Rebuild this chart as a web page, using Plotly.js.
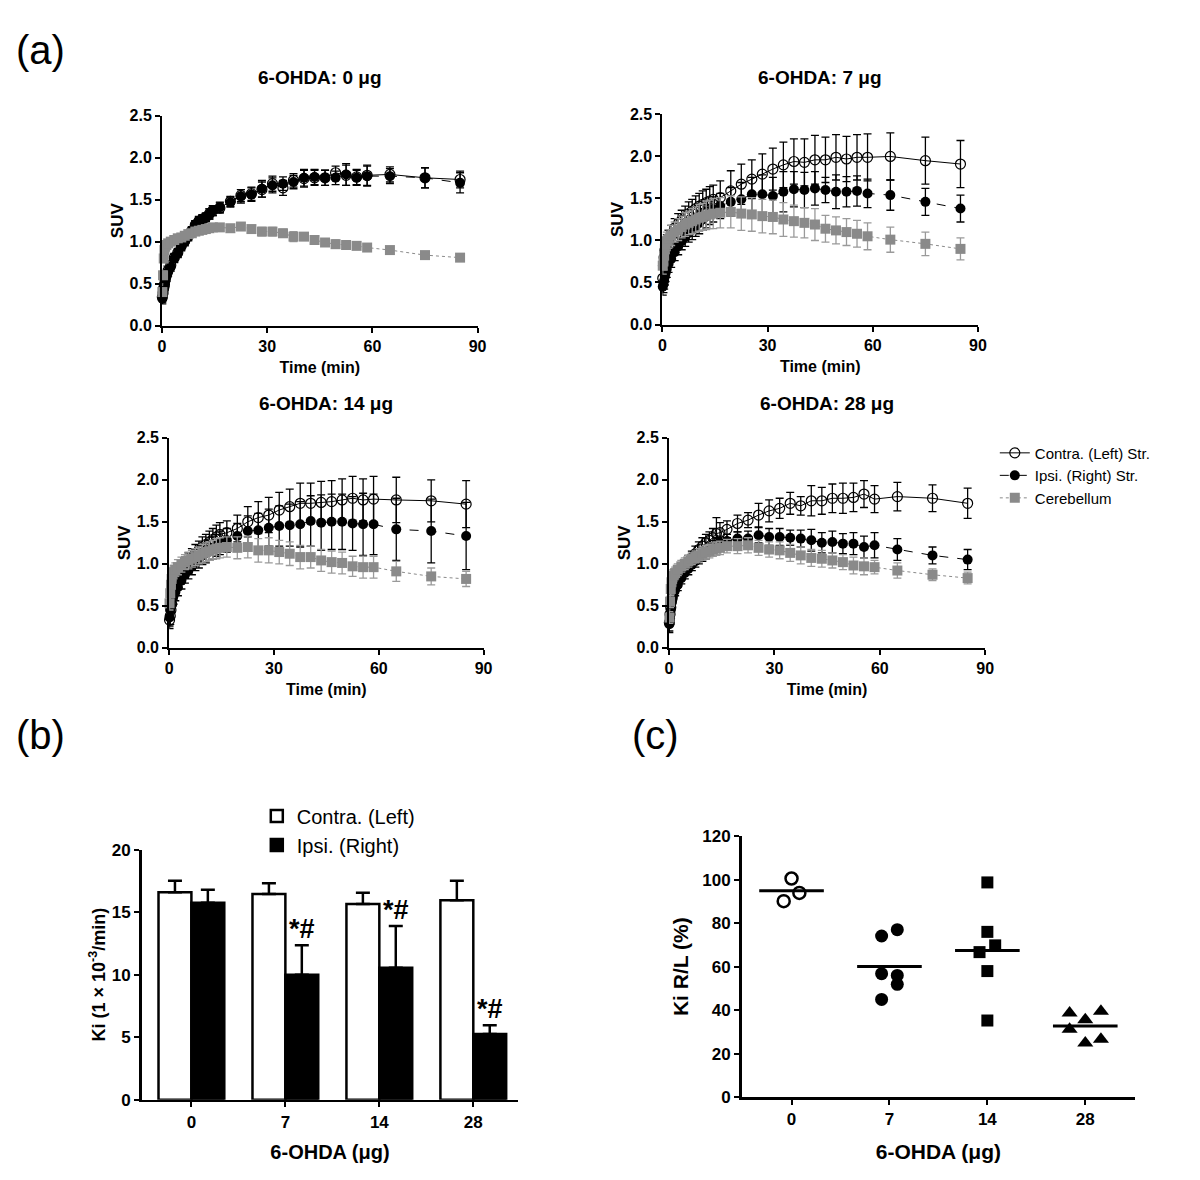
<!DOCTYPE html>
<html>
<head>
<meta charset="utf-8">
<script src="https://cdn.plot.ly/plotly-3.0.1.min.js"></script>
<style>
  body { margin: 0; background: #fff; }
  #plot { width: 1200px; height: 1180px; }
</style>
</head>
<body>
<div id="plot"></div>
<script>
// frame mid-times (min)
const times = [0.1,0.3,0.5,0.7,0.9,1.25,1.75,2.5,3.5,4.5,5.5,6.5,7.5,8.5,9.5,10.5,11.5,12.5,13.5,14.5,16.5,19.5,22.5,25.5,28.5,31.5,34.5,37.5,40.5,43.5,46.5,49.5,52.5,55.5,58.5,65,75,85];

// 6-OHDA 0 ug
const contra0 = [0.34,0.39,0.45,0.49,0.54,0.60,0.66,0.72,0.81,0.87,0.95,1.01,1.07,1.13,1.20,1.24,1.27,1.29,1.33,1.37,1.40,1.48,1.55,1.57,1.62,1.69,1.64,1.73,1.75,1.76,1.76,1.82,1.79,1.77,1.79,1.80,1.76,1.74];
const contra0Err = [0.06,0.05,0.05,0.05,0.05,0.05,0.05,0.05,0.05,0.05,0.05,0.05,0.05,0.05,0.05,0.05,0.05,0.05,0.06,0.06,0.06,0.06,0.07,0.08,0.09,0.09,0.09,0.08,0.1,0.09,0.09,0.08,0.12,0.09,0.12,0.09,0.12,0.1];
const ipsi0 = [0.32,0.37,0.43,0.47,0.53,0.58,0.64,0.70,0.80,0.86,0.94,1.00,1.06,1.12,1.20,1.25,1.27,1.29,1.33,1.37,1.41,1.47,1.54,1.56,1.63,1.67,1.69,1.71,1.76,1.77,1.76,1.76,1.80,1.76,1.78,1.78,1.76,1.70];
const ipsi0Err = [0.06,0.05,0.05,0.05,0.05,0.05,0.05,0.05,0.05,0.05,0.05,0.05,0.05,0.05,0.05,0.05,0.05,0.05,0.06,0.06,0.06,0.06,0.08,0.08,0.1,0.09,0.08,0.08,0.1,0.09,0.09,0.08,0.13,0.09,0.12,0.09,0.12,0.12];
const cereb0 = [0.40,0.60,0.80,0.90,0.94,0.96,0.98,1.00,1.02,1.04,1.05,1.07,1.09,1.10,1.12,1.13,1.14,1.15,1.16,1.17,1.17,1.16,1.18,1.15,1.12,1.12,1.10,1.06,1.06,1.02,0.99,0.97,0.96,0.95,0.93,0.90,0.84,0.81];
const cereb0Err = [0.04,0.05,0.05,0.05,0.04,0.04,0.04,0.04,0.04,0.04,0.04,0.03,0.03,0.03,0.03,0.03,0.03,0.03,0.03,0.03,0.03,0.03,0.03,0.04,0.05,0.05,0.05,0.06,0.04,0.05,0.04,0.05,0.05,0.03,0.03,0.03,0.03,0.03];

// 6-OHDA 7 ug
const contra7 = [0.55,0.70,0.80,0.88,0.93,0.97,1.02,1.08,1.15,1.20,1.24,1.28,1.32,1.35,1.38,1.41,1.43,1.45,1.47,1.49,1.51,1.59,1.67,1.73,1.79,1.85,1.90,1.94,1.93,1.96,1.96,1.99,1.97,1.99,1.99,2.00,1.95,1.91];
const contra7Err = [0.08,0.08,0.08,0.09,0.09,0.1,0.1,0.1,0.11,0.12,0.12,0.13,0.14,0.14,0.15,0.15,0.16,0.16,0.17,0.17,0.2,0.24,0.24,0.23,0.24,0.25,0.27,0.27,0.28,0.29,0.27,0.27,0.27,0.27,0.28,0.28,0.28,0.28];
const ipsi7 = [0.45,0.48,0.52,0.57,0.61,0.66,0.72,0.78,0.86,0.93,0.99,1.04,1.09,1.13,1.17,1.21,1.25,1.29,1.33,1.37,1.41,1.46,1.49,1.55,1.55,1.53,1.58,1.61,1.60,1.62,1.60,1.58,1.58,1.59,1.56,1.54,1.46,1.38];
const ipsi7Err = [0.1,0.1,0.1,0.1,0.1,0.1,0.1,0.1,0.1,0.1,0.1,0.11,0.11,0.12,0.12,0.13,0.13,0.14,0.14,0.15,0.15,0.17,0.2,0.2,0.23,0.22,0.24,0.21,0.21,0.2,0.15,0.2,0.18,0.18,0.17,0.18,0.16,0.16];
const cereb7 = [0.70,0.75,0.82,0.90,0.95,0.99,1.02,1.06,1.10,1.13,1.16,1.19,1.21,1.23,1.25,1.27,1.28,1.30,1.31,1.32,1.33,1.34,1.32,1.31,1.29,1.28,1.25,1.23,1.21,1.19,1.14,1.12,1.10,1.08,1.05,1.01,0.96,0.90];
const cereb7Err = [0.1,0.1,0.1,0.1,0.1,0.11,0.11,0.12,0.12,0.13,0.13,0.14,0.14,0.15,0.15,0.16,0.16,0.17,0.17,0.18,0.18,0.19,0.2,0.2,0.2,0.2,0.2,0.19,0.18,0.19,0.16,0.16,0.16,0.16,0.16,0.15,0.14,0.13];

// 6-OHDA 14 ug
const contra14 = [0.33,0.38,0.45,0.52,0.60,0.68,0.76,0.84,0.92,0.98,1.03,1.08,1.12,1.16,1.20,1.23,1.26,1.29,1.32,1.35,1.37,1.42,1.50,1.55,1.58,1.64,1.68,1.72,1.72,1.73,1.74,1.76,1.78,1.76,1.77,1.76,1.75,1.71];
const contra14Err = [0.1,0.1,0.1,0.1,0.1,0.1,0.1,0.1,0.1,0.1,0.1,0.1,0.11,0.11,0.12,0.12,0.13,0.13,0.14,0.14,0.14,0.16,0.18,0.19,0.21,0.21,0.21,0.24,0.24,0.25,0.25,0.25,0.26,0.25,0.27,0.27,0.25,0.28];
const ipsi14 = [0.36,0.45,0.52,0.57,0.60,0.62,0.66,0.72,0.80,0.87,0.92,0.97,1.02,1.06,1.10,1.13,1.16,1.19,1.22,1.25,1.28,1.33,1.39,1.40,1.43,1.45,1.46,1.47,1.51,1.49,1.50,1.50,1.48,1.47,1.47,1.41,1.39,1.33];
const ipsi14Err = [0.1,0.1,0.1,0.1,0.1,0.1,0.1,0.1,0.1,0.1,0.1,0.1,0.1,0.11,0.11,0.12,0.12,0.13,0.13,0.14,0.14,0.15,0.18,0.2,0.22,0.24,0.25,0.27,0.30,0.33,0.33,0.33,0.32,0.37,0.36,0.37,0.38,0.40];
const cereb14 = [0.53,0.65,0.75,0.82,0.88,0.90,0.93,0.96,0.99,1.02,1.04,1.06,1.08,1.10,1.12,1.14,1.15,1.17,1.18,1.19,1.20,1.19,1.20,1.16,1.16,1.14,1.12,1.08,1.08,1.04,1.02,1.01,0.97,0.96,0.96,0.91,0.85,0.82];
const cereb14Err = [0.08,0.08,0.08,0.08,0.08,0.08,0.08,0.09,0.09,0.09,0.1,0.1,0.1,0.1,0.11,0.11,0.11,0.11,0.12,0.12,0.12,0.13,0.13,0.14,0.15,0.14,0.14,0.14,0.13,0.13,0.13,0.13,0.12,0.13,0.13,0.12,0.1,0.09];

// 6-OHDA 28 ug
const contra28 = [0.30,0.40,0.48,0.55,0.60,0.67,0.73,0.80,0.89,0.96,1.02,1.07,1.12,1.17,1.21,1.25,1.28,1.31,1.36,1.37,1.41,1.48,1.52,1.58,1.63,1.66,1.72,1.69,1.75,1.75,1.78,1.78,1.79,1.83,1.77,1.80,1.78,1.72];
const contra28Err = [0.1,0.08,0.08,0.08,0.08,0.08,0.08,0.08,0.08,0.08,0.08,0.08,0.09,0.09,0.1,0.1,0.1,0.11,0.19,0.12,0.1,0.1,0.09,0.14,0.13,0.12,0.13,0.11,0.18,0.16,0.17,0.18,0.17,0.16,0.16,0.17,0.16,0.18];
const ipsi28 = [0.28,0.35,0.45,0.55,0.60,0.64,0.69,0.75,0.83,0.89,0.94,0.99,1.03,1.07,1.11,1.14,1.17,1.20,1.23,1.25,1.27,1.30,1.30,1.34,1.32,1.32,1.31,1.30,1.28,1.25,1.26,1.24,1.24,1.20,1.22,1.17,1.10,1.05];
const ipsi28Err = [0.1,0.08,0.08,0.07,0.07,0.07,0.07,0.07,0.07,0.07,0.07,0.07,0.07,0.07,0.08,0.08,0.08,0.08,0.08,0.08,0.08,0.08,0.09,0.09,0.1,0.1,0.09,0.1,0.13,0.12,0.13,0.12,0.13,0.13,0.15,0.13,0.1,0.12];
const cereb28 = [0.36,0.55,0.70,0.78,0.82,0.86,0.89,0.93,0.97,1.00,1.03,1.06,1.08,1.10,1.12,1.14,1.15,1.17,1.18,1.19,1.21,1.21,1.22,1.19,1.17,1.16,1.13,1.10,1.07,1.06,1.04,1.02,0.98,0.97,0.96,0.92,0.87,0.83];
const cereb28Err = [0.07,0.07,0.07,0.07,0.07,0.07,0.07,0.07,0.07,0.07,0.07,0.07,0.07,0.08,0.08,0.08,0.08,0.08,0.08,0.08,0.08,0.09,0.09,0.09,0.09,0.1,0.1,0.1,0.1,0.1,0.09,0.09,0.1,0.1,0.08,0.09,0.07,0.07];

// (b) Ki
const doses = ['0', '7', '14', '28'];
const kiContra = [16.6, 16.45, 15.65, 15.95];
const kiContraErr = [0.9, 0.85, 0.9, 1.55];
const kiIpsi = [15.75, 10.0, 10.55, 5.25];
const kiIpsiErr = [1.05, 2.35, 3.35, 0.7];
const sigLabels = ['', '*#', '*#', '*#'];

// (c) Ki R/L per animal
const rl0 = [100.5, 90.1, 93.9];
const rl7 = [74.1, 77.0, 56.8, 56.0, 51.9, 45.0];
const rl14 = [98.7, 76.0, 69.8, 66.7, 58.0, 35.3];
const rl28 = [38.8, 39.5, 35.7, 31.3, 25.0, 26.7];
const jit0 = [0, -0.08, 0.08];
const jit7 = [-0.08, 0.08, -0.08, 0.08, 0.08, -0.08];
const jit14 = [0, 0, 0.08, -0.08, 0, 0];
const jit28 = [-0.16, 0.16, 0, -0.16, 0, 0.16];

const FONT = 'Liberation Sans, Arial, sans-serif';
const GRAY = '#8a8a8a';

function suvTraces(n, c, cErr, ip, ipErr, cb, cbErr, showLeg) {
  const xa = n === 1 ? 'x' : 'x' + n;
  const ya = n === 1 ? 'y' : 'y' + n;
  const eb = (arr, col) => ({ type: 'data', array: arr, visible: true, color: col, thickness: 1.3, width: 4 });
  return [
    { x: times, y: c, xaxis: xa, yaxis: ya, name: 'Contra. (Left) Str.', mode: 'lines+markers',
      line: { color: '#000', width: 1 }, marker: { symbol: 'circle-open', size: 10, color: '#000', line: { width: 1.2 } },
      error_y: eb(cErr, '#000'), showlegend: showLeg, cliponaxis: false },
    { x: times, y: ip, xaxis: xa, yaxis: ya, name: 'Ipsi. (Right) Str.', mode: 'lines+markers',
      line: { color: '#000', width: 1, dash: 'dash' }, marker: { symbol: 'circle', size: 10, color: '#000' },
      error_y: eb(ipErr, '#000'), showlegend: showLeg, cliponaxis: false },
    { x: times, y: cb, xaxis: xa, yaxis: ya, name: 'Cerebellum', mode: 'lines+markers',
      line: { color: GRAY, width: 1, dash: 'dot' }, marker: { symbol: 'square', size: 10, color: GRAY },
      error_y: eb(cbErr, '#9a9a9a'), showlegend: showLeg, cliponaxis: false }
  ];
}

const traces = [].concat(
  suvTraces(1, contra0, contra0Err, ipsi0, ipsi0Err, cereb0, cereb0Err, false),
  suvTraces(2, contra7, contra7Err, ipsi7, ipsi7Err, cereb7, cereb7Err, false),
  suvTraces(3, contra14, contra14Err, ipsi14, ipsi14Err, cereb14, cereb14Err, false),
  suvTraces(4, contra28, contra28Err, ipsi28, ipsi28Err, cereb28, cereb28Err, true)
);

// (b) bars
traces.push({
  type: 'bar', x: doses, y: kiContra, xaxis: 'x5', yaxis: 'y5', name: 'Contra. (Left)', legend: 'legend2',
  marker: { color: '#fff', line: { color: '#000', width: 2.5 } },
  error_y: { type: 'data', array: kiContraErr, arrayminus: kiContraErr.map(() => 0), color: '#000', thickness: 2.5, width: 7 }
});
traces.push({
  type: 'bar', x: doses, y: kiIpsi, xaxis: 'x5', yaxis: 'y5', name: 'Ipsi. (Right)', legend: 'legend2',
  marker: { color: '#000', line: { color: '#000', width: 2.5 } },
  error_y: { type: 'data', array: kiIpsiErr, arrayminus: kiIpsiErr.map(() => 0), color: '#000', thickness: 2.5, width: 7 }
});

// (c) dot plot with means
const mean = a => a.reduce((s, v) => s + v, 0) / a.length;
const groups = [
  { y: rl0, j: jit0, sym: 'circle-open', size: 12, lw: 2.5 },
  { y: rl7, j: jit7, sym: 'circle', size: 13, lw: 0 },
  { y: rl14, j: jit14, sym: 'square', size: 12, lw: 0 },
  { y: rl28, j: jit28, sym: 'triangle-up', size: 14, lw: 0 }
];
groups.forEach((g, k) => {
  traces.push({
    x: g.j.map(d => k + d), y: g.y, xaxis: 'x6', yaxis: 'y6', mode: 'markers', showlegend: false,
    marker: { symbol: g.sym, size: g.size, color: '#000', line: { color: '#000', width: g.lw } }, cliponaxis: false
  });
  const m = mean(g.y);
  traces.push({
    x: [k - 0.33, k + 0.33], y: [m, m], xaxis: 'x6', yaxis: 'y6', mode: 'lines', showlegend: false,
    line: { color: '#000', width: 3 }
  });
});

function ax(extra) {
  return Object.assign({
    showline: true, linecolor: '#000', linewidth: 2, ticks: 'outside', ticklen: 5, tickwidth: 2, tickcolor: '#000',
    showgrid: false, zeroline: false, fixedrange: true,
    tickfont: { family: FONT, size: 16, weight: 'bold', color: '#000' }
  }, extra);
}
const axTitle = (text, size, standoff) => ({ text: text, font: { family: FONT, size: size, weight: 'bold', color: '#000' }, standoff: standoff });
const bigTick = { family: FONT, size: 17, weight: 'bold', color: '#000' };

const suvX = (dom, anchor) => ax({ domain: dom, anchor: anchor, range: [0, 90], tickvals: [0, 30, 60, 90],
  title: axTitle('Time (min)', 16, 8) });
const suvY = (dom, anchor) => ax({ domain: dom, anchor: anchor, range: [0, 2.5], dtick: 0.5, tickformat: '.1f',
  title: axTitle('SUV', 17, 2) });

const panelTitle = (text, x, y) => ({ text: text, x: x, y: y, xref: 'paper', yref: 'paper', showarrow: false,
  font: { family: FONT, size: 19, weight: 'bold', color: '#000' }, xanchor: 'center', yanchor: 'middle' });
const panelLabel = (text, x, y) => ({ text: text, x: x, y: y, xref: 'paper', yref: 'paper', showarrow: false,
  font: { family: FONT, size: 40, color: '#000' }, xanchor: 'left', yanchor: 'middle' });

const annotations = [
  panelLabel('(a)', 0.012, 0.958),
  panelLabel('(b)', 0.012, 0.377),
  panelLabel('(c)', 0.525, 0.377),
  panelTitle('6-OHDA: 0 μg', 0.267, 0.934),
  panelTitle('6-OHDA: 7 μg', 0.683, 0.934),
  panelTitle('6-OHDA: 14 μg', 0.272, 0.658),
  panelTitle('6-OHDA: 28 μg', 0.689, 0.658)
];
sigLabels.forEach((s, k) => {
  if (!s) return;
  annotations.push({ text: s, x: k, y: kiIpsi[k] + kiIpsiErr[k], xref: 'x5', yref: 'y5',
    showarrow: false, xanchor: 'center', yanchor: 'bottom', xshift: 17, yshift: -1,
    font: { family: FONT, size: 27, weight: 'bold', color: '#000' } });
});

const layout = {
  width: 1200, height: 1180,
  margin: { l: 0, r: 0, t: 0, b: 0 },
  paper_bgcolor: '#fff', plot_bgcolor: '#fff',
  font: { family: FONT, color: '#000' },
  xaxis: suvX([0.135, 0.398], 'y'),
  yaxis: suvY([0.724, 0.902], 'x'),
  xaxis2: suvX([0.552, 0.815], 'y2'),
  yaxis2: suvY([0.725, 0.903], 'x2'),
  xaxis3: suvX([0.141, 0.403], 'y3'),
  yaxis3: suvY([0.451, 0.629], 'x3'),
  xaxis4: suvX([0.5575, 0.821], 'y4'),
  yaxis4: suvY([0.451, 0.629], 'x4'),
  xaxis5: ax({ domain: [0.118, 0.432], anchor: 'y5', type: 'category', range: [-0.53, 3.48], linewidth: 2.5,
    tickfont: bigTick, title: axTitle('6-OHDA (μg)', 20, 15) }),
  yaxis5: ax({ domain: [0.068, 0.28], anchor: 'x5', range: [0, 20], dtick: 5, linewidth: 2.5,
    tickfont: bigTick, title: axTitle('Ki (1 × 10<sup>-3</sup>/min)', 18, 2) }),
  xaxis6: ax({ domain: [0.618, 0.946], anchor: 'y6', range: [-0.51, 3.51], tickvals: [0, 1, 2, 3], ticktext: doses, linewidth: 2.5,
    tickfont: bigTick, title: axTitle('6-OHDA (μg)', 21, 16) }),
  yaxis6: ax({ domain: [0.07, 0.2915], anchor: 'x6', range: [0, 120], dtick: 20, linewidth: 2.5,
    tickfont: bigTick, title: axTitle('Ki R/L (%)', 21, 8) }),
  barmode: 'group', bargap: 0.3, bargroupgap: 0,
  showlegend: true,
  legend: { x: 0.829, y: 0.63, xanchor: 'left', yanchor: 'top', bgcolor: 'rgba(0,0,0,0)',
    font: { family: FONT, size: 15, color: '#000' }, tracegroupgap: 0, itemwidth: 30 },
  legend2: { x: 0.214, y: 0.325, xanchor: 'left', yanchor: 'top', bgcolor: 'rgba(0,0,0,0)',
    font: { family: FONT, size: 20, color: '#000' }, itemwidth: 30 },
  annotations: annotations
};

Plotly.newPlot('plot', traces, layout, { staticPlot: true });
</script>
</body>
</html>
